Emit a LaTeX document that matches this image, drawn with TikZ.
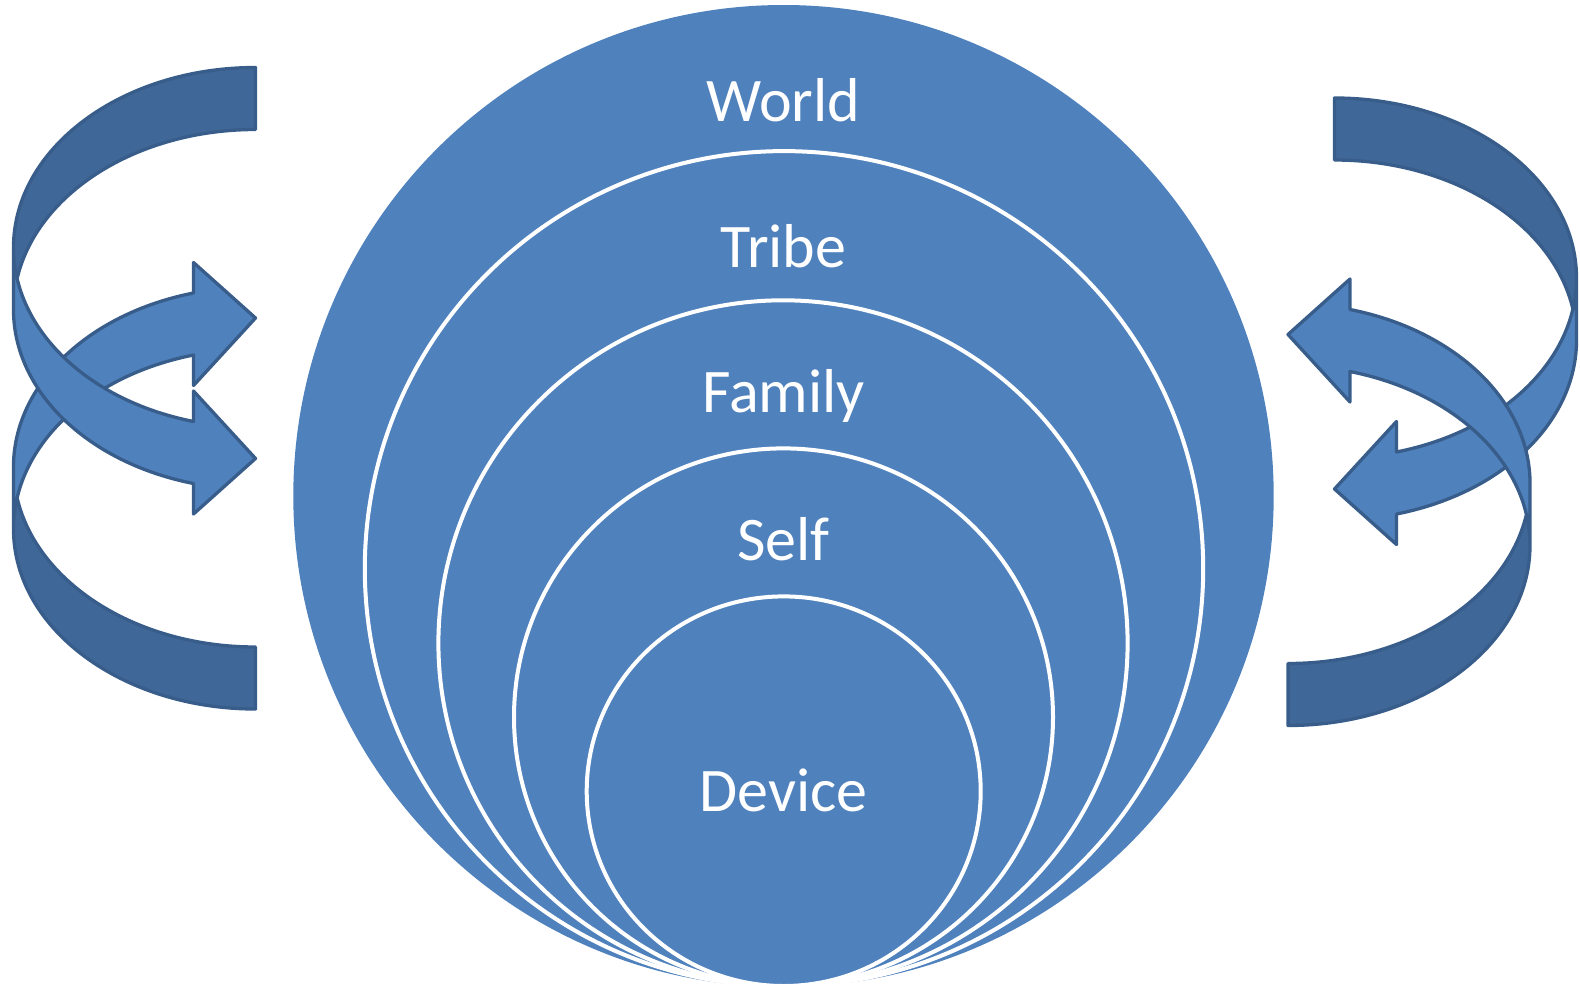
\documentclass[tikz,border=0pt]{standalone}
\usepackage{fontspec}
\setmainfont{Carlito}
\definecolor{ringblue}{HTML}{4F81BD}
\definecolor{bandback}{HTML}{3F6797}
\definecolor{bandline}{HTML}{385D8A}

% Curved arrow band: local origin at the top-right corner, y pointing down.
% Two ellipses (rx 242, ry 180) centred on the right edge, 62 apart.
\newcommand\cvarrow[1]{%
  \begin{scope}[#1]
    \fill[ringblue] (-242,180)
      arc[start angle=180,end angle=104.84,x radius=242,y radius=180]
      -- (-62,323.5) -- (0,391) -- (-62,446.5) -- (-62,416)
      arc[start angle=104.84,end angle=180,x radius=242,y radius=180]
      -- (-242,180)
      arc[start angle=180,end angle=270,x radius=242,y radius=180]
      -- (0,62)
      arc[start angle=270,end angle=189.92,x radius=242,y radius=180] -- cycle;
    \fill[bandback] (0,62)
      arc[start angle=270,end angle=189.92,x radius=242,y radius=180]
      arc[start angle=170.08,end angle=270,x radius=242,y radius=180] -- cycle;
    \draw[bandline,line width=3.3pt,line join=round,line cap=round] (-242,180)
      arc[start angle=180,end angle=104.84,x radius=242,y radius=180]
      -- (-62,323.5) -- (0,391) -- (-62,446.5) -- (-62,416)
      arc[start angle=104.84,end angle=180,x radius=242,y radius=180]
      -- (-242,180)
      arc[start angle=180,end angle=270,x radius=242,y radius=180]
      -- (0,62)
      arc[start angle=270,end angle=189.92,x radius=242,y radius=180];
  \end{scope}}

\begin{document}
\begin{tikzpicture}[x=1pt,y=-1pt,
  ring/.style={draw=white,line width=4pt,fill=ringblue},
  lbl/.style={text=white,font=\fontsize{62}{70}\selectfont,anchor=base,inner sep=0pt}]
  \useasboundingbox (0,0) rectangle (1580,988);

  % nested circles, all touching at the bottom
  \fill[ringblue] (783.5,496) ellipse[x radius=490.2,y radius=491];
  \path[ring] (784,568.6) ellipse[x radius=419.2,y radius=417.5];
  \path[ring] (783,643.2) ellipse[x radius=344.6,y radius=342.9];
  \path[ring] (783.5,717.2) ellipse[x radius=269.5,y radius=268.8];
  \path[ring] (783.7,791.2) ellipse[x radius=197,y radius=194.8];

  \node[lbl] (world)  at (783.5,121.7) {World};
  \node[lbl] (tribe)  at (783.5,267) {Tribe};
  \node[lbl] (family) at (783.5,412.7) {Family};
  \node[lbl] (self)   at (783.5,560) {Self};
  \node[lbl] (device) at (783.5,811) {Device};

  % circular arrows, left pair
  \cvarrow{shift={(255.5,709)},yscale=-1}
  \cvarrow{shift={(255.5,67.5)}}
  % circular arrows, right pair
  \cvarrow{shift={(1334.5,98)},xscale=-1}
  \cvarrow{shift={(1288,725.5)},xscale=-1,yscale=-1}
\end{tikzpicture}
\end{document}
